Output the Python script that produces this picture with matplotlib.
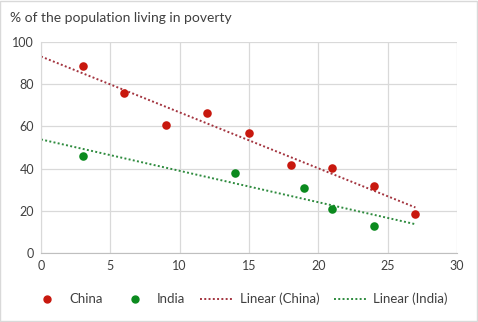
import numpy as np
import matplotlib
matplotlib.use("Agg")
import matplotlib.pyplot as plt
from matplotlib.lines import Line2D

plt.rcParams['font.family'] = ['Lato', 'DejaVu Sans']

china_x = [3, 6, 9, 12, 15, 18, 21, 24, 27]
china_y = [88.5, 76, 60.5, 66.2, 56.8, 41.8, 40.3, 31.8, 18.6]
india_x = [3, 14, 19, 21, 24]
india_y = [46, 37.9, 30.8, 21, 12.9]

title = "% of the population living in poverty"
xticks = [0, 5, 10, 15, 20, 25, 30]
yticks = [0, 20, 40, 60, 80, 100]

red = "#C8180E"
green = "#0B8A1E"
red_trend = "#A3343F"
green_trend = "#2E8B3E"

fig = plt.figure(figsize=(4.78, 3.22), dpi=100)
ax = fig.add_axes([41/478, 1-253/322, (457-41)/478, (253-42)/322])

ax.scatter(china_x, china_y, s=38, color=red, zorder=3, linewidths=0)
ax.scatter(india_x, india_y, s=38, color=green, zorder=3, linewidths=0)

tx = np.array([0, max(china_x)])
pc = np.polyfit(china_x, china_y, 1)
ax.plot(tx, np.polyval(pc, tx), linestyle=(0, (1, 1.2)), color=red_trend, lw=1.4, zorder=2)
tx2 = np.array([0, max(india_x) + 3])
pi = np.polyfit(india_x, india_y, 1)
ax.plot(tx2, np.polyval(pi, tx2), linestyle=(0, (1, 1.2)), color=green_trend, lw=1.4, zorder=2)

ax.set_xlim(0, 30)
ax.set_ylim(0, 100)
ax.set_xticks(xticks)
ax.set_yticks(yticks)
ax.grid(True, color="#D9D9D9", lw=0.9)
ax.set_axisbelow(True)
for s in ['top', 'right']:
    ax.spines[s].set_visible(False)
ax.spines['left'].set_color("#D9D9D9")
ax.spines['bottom'].set_color("#BFBFBF")
ax.tick_params(length=0, labelsize=9, colors="#404040", pad=5)

fig.text(10/478, 1-18/322, title, fontsize=10, color="#404040", va='center', ha='left')

handles = [
    Line2D([], [], marker='o', ls='none', color=red, markersize=5),
    Line2D([], [], marker='o', ls='none', color=green, markersize=5),
    Line2D([], [], ls=(0, (1, 1.2)), color=red_trend, lw=1.4),
    Line2D([], [], ls=(0, (1, 1.2)), color=green_trend, lw=1.4),
]
labels = ["China", "India", "Linear (China)", "Linear (India)"]
fig.legend(handles, labels, loc='center', bbox_to_anchor=(0.5, 1-299/322), ncol=4,
           frameon=False, fontsize=9.5, handlelength=2.6, columnspacing=1.1,
           handletextpad=0.4, labelcolor="#404040")

fig.patches.append(plt.Rectangle((0.001, 0.002), 0.997, 0.995, transform=fig.transFigure,
                                 fill=False, edgecolor="#D9D9D9", lw=1))
fig.savefig("out.png", dpi=100, facecolor="white")
